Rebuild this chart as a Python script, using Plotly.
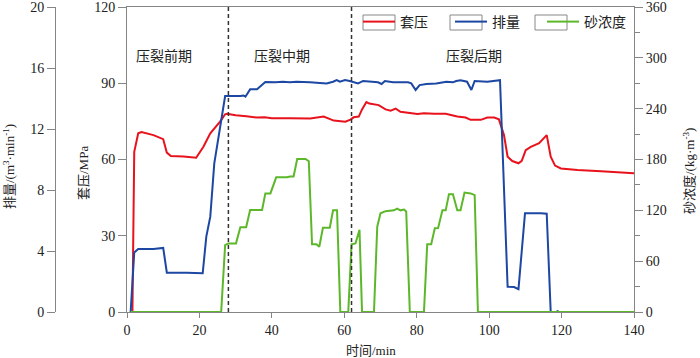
import plotly.graph_objects as go

# ---- data ----
t_press = [1.5, 2.0, 3.1, 4.0, 7.3, 10.0, 11.0, 12.1, 15.6, 19.1, 21.1, 23.0, 25.7, 27.1, 27.6, 30, 33, 36, 38, 40, 45,
           50.6, 54.3, 57.1, 60.3, 61.7, 62.6, 64.0, 64.9, 66.1, 66.9, 69.5, 71.4, 72.8, 74.2, 75.5, 80.2, 82.0, 84.8,
           88.0, 91.2, 93.5, 94.9, 97.7, 99.5, 101.4, 102.7, 104.1, 105.1, 106.4, 108.1, 109.0, 110.1, 111.5, 113.8,
           115.9, 117.0, 118.2, 119.8, 124.4, 130.9, 140]
casing_pressure = [0, 63, 70.3, 70.8, 69.6, 68.0, 62.7, 61.4, 61.2, 60.7, 65.0, 70.3, 74.9, 77.8, 78.0, 77.4, 77.0, 76.5,
                   76.6, 76.2, 76.2, 76.1, 76.9, 75.3, 74.9, 75.7, 76.6, 76.9, 79.7, 82.6, 82.0, 81.4, 79.7, 79.2, 80.0,
                   78.8, 77.9, 78.2, 78.0, 78.0, 76.9, 76.5, 75.6, 75.6, 76.5, 76.5, 75.8, 69.6, 61.1, 59.4, 58.5, 59.5,
                   63.7, 65.0, 66.4, 69.6, 61.1, 57.6, 56.5, 55.9, 55.4, 54.6]

t_rate = [1.0, 2.0, 3.1, 7.3, 10.0, 11.0, 16.5, 20.9, 21.9, 23.0, 24.1, 25.5, 27.1, 31.3, 32.2, 32.7, 34.0, 35.9, 37.3,
          38.2, 41.0, 43.0, 45.0, 46.8, 50.5, 55.1, 56.9, 57.9, 58.8, 60.2, 61.5, 63.8, 65.2, 69.3, 70.3, 71.2, 73.5,
          77.6, 78.5, 79.7, 80.8, 82.7, 85.4, 88.2, 90.0, 90.9, 92.1, 93.9, 95.1, 96.0, 99.5, 103.0, 105.1, 106.9,
          108.1, 109.9, 114.3, 115.9, 117.0, 118.5, 118.9, 119.3, 140]
pump_rate = [0, 3.9, 4.13, 4.13, 4.2, 2.58, 2.58, 2.54, 4.94, 6.25, 9.75, 11.93, 14.16, 14.16, 14.2, 14.12, 14.6, 14.6,
             14.9, 15.08, 15.06, 15.1, 15.06, 15.1, 15.06, 14.99, 15.1, 15.21, 15.1, 15.21, 15.15, 14.99, 15.15, 15.06,
             14.95, 15.15, 15.06, 15.06, 14.99, 14.56, 14.88, 14.95, 14.99, 15.1, 15.06, 15.15, 15.2, 15.1, 14.56,
             15.15, 15.1, 15.2, 1.66, 1.64, 1.5, 6.47, 6.47, 6.45, 0, 0, 0.06, 0, 0]

t_sand = [1.0, 26.0, 27.1, 28.0, 30.1, 31.3, 32.9, 34.0, 37.3, 38.2, 39.6, 41.2, 44.2, 45.0, 46.0, 47.0, 49.3, 50.2,
          51.1, 52.3, 53.1, 54.1, 56.0, 56.9, 58.0, 58.9, 61.1, 62.0, 63.1, 64.2, 64.9, 68.2, 69.1, 70.0, 71.4, 73.7,
          74.6, 75.5, 76.5, 77.1, 78.1, 82.0, 82.9, 84.0, 85.0, 85.9, 87.1, 88.0, 88.9, 90.0, 91.2, 92.1, 93.2, 94.9,
          96.0, 96.9, 140]
sand_conc = [0, 0, 79, 81, 81, 100, 100, 120.4, 120.4, 140, 140, 159, 159, 160, 160, 180.6, 180.6, 178, 80, 80, 77,
             99.5, 99.5, 120, 120, 0, 0, 80, 81, 97, 0, 0, 100.7, 116.5, 119, 120, 122, 120, 121, 118.6, 0, 0, 80, 80,
             98.8, 99, 120, 120, 139, 139, 120, 120, 141, 140, 138, 0, 0]

stage_bounds = [28, 62]
stage_labels = ["压裂前期", "压裂中期", "压裂后期"]
stage_label_x = [10.2, 42.9, 95.7]
x_ticks = [0, 20, 40, 60, 80, 100, 120, 140]

RED, BLUE, GREEN = "#e8121c", "#1c47a3", "#5cb82a"
AX = "#858585"
FONT = "Liberation Serif, Noto Sans CJK SC, serif"
TXT = "#222222"
W, H = 700, 358
T_M, B_M = 7, 46
PH = H - T_M - B_M


def py2paper(py):
    return (H - B_M - py) / PH


fig = go.Figure()
fig.add_trace(go.Scatter(x=t_press, y=casing_pressure, name="套压", mode="lines",
                         line=dict(color=RED, width=2), yaxis="y"))
fig.add_trace(go.Scatter(x=t_rate, y=pump_rate, name="排量", mode="lines",
                         line=dict(color=BLUE, width=2), yaxis="y2"))
fig.add_trace(go.Scatter(x=t_sand, y=sand_conc, name="砂浓度", mode="lines",
                         line=dict(color=GREEN, width=2), yaxis="y3"))

for xb in stage_bounds:
    fig.add_shape(type="line", xref="x", yref="paper", x0=xb, x1=xb, y0=0, y1=1,
                  line=dict(color="#333333", width=1.5, dash="4px,3px"))

for lab, lx in zip(stage_labels, stage_label_x):
    fig.add_annotation(x=lx, y=100.7, xref="x", yref="y", text=lab, showarrow=False,
                       font=dict(size=14, color=TXT, family=FONT))

# legend swatch frames
for x0 in [363, 450, 535]:
    fig.add_shape(type="rect", xref="paper", yref="paper", x0=x0 / W, x1=(x0 + 32) / W,
                  y0=py2paper(30), y1=py2paper(15), line=dict(color="#888888", width=1))

# axis titles
fig.add_annotation(x=9 / W, y=py2paper(167), xref="paper", yref="paper", textangle=-90, showarrow=False,
                   xanchor="center", yanchor="middle",
                   text="排量/(m<sup>3</sup>·min<sup>-1</sup>)", font=dict(size=13, color=TXT, family=FONT))
fig.add_annotation(x=83 / W, y=py2paper(173), xref="paper", yref="paper", textangle=-90, showarrow=False,
                   xanchor="center", yanchor="middle",
                   text="套压/MPa", font=dict(size=13, color=TXT, family=FONT))
fig.add_annotation(x=689 / W, y=py2paper(171), xref="paper", yref="paper", textangle=-90, showarrow=False,
                   xanchor="center", yanchor="middle",
                   text="砂浓度/(kg·m<sup>-3</sup>)", font=dict(size=13, color=TXT, family=FONT))
fig.add_annotation(x=371 / W, y=py2paper(350), xref="paper", yref="paper", showarrow=False,
                   xanchor="center", yanchor="middle",
                   text="时间/min", font=dict(size=13, color=TXT, family=FONT))

tickfont = dict(size=14, color=TXT, family=FONT)
fig.update_layout(
    template="none",
    width=W, height=H,
    margin=dict(l=0, r=0, t=T_M, b=B_M, pad=0, autoexpand=False),
    paper_bgcolor="white", plot_bgcolor="white",
    showlegend=True,
    legend=dict(orientation="h", x=358 / W, xanchor="left", y=py2paper(22), yanchor="middle",
                font=dict(size=14, color=TXT, family=FONT), bgcolor="rgba(0,0,0,0)",
                itemwidth=32, entrywidth=45, entrywidthmode="pixels", borderwidth=0),
    xaxis=dict(domain=[127 / W, 634 / W], range=[0, 140], tickvals=x_ticks, automargin=False,
               showline=True, linecolor=AX, linewidth=1, mirror=True, showgrid=False, zeroline=False,
               ticks="outside", ticklen=5, tickcolor=AX, tickfont=tickfont, ticklabeloverflow="allow"),
    yaxis=dict(range=[0, 120], dtick=30, showline=True, linecolor=AX, linewidth=1, showgrid=False,
               zeroline=False, ticks="outside", ticklen=8, tickcolor=AX, tickfont=tickfont, anchor="x",
               ticklabeloverflow="allow", automargin=False),
    yaxis2=dict(range=[0, 20], dtick=4, overlaying="y", anchor="free", position=55 / W, side="left",
                showline=True, linecolor=AX, linewidth=1, showgrid=False, zeroline=False, automargin=False,
                ticks="outside", ticklen=8, tickcolor=AX, tickfont=tickfont, ticklabeloverflow="allow"),
    yaxis3=dict(range=[0, 360], dtick=60, overlaying="y", anchor="x", side="right", automargin=False,
                showline=True, linecolor=AX, linewidth=1, showgrid=False, zeroline=False,
                ticks="outside", ticklen=8, tickcolor=AX, tickfont=tickfont, ticklabeloverflow="allow",
                minor=dict(dtick=30, ticks="outside", ticklen=5, tickcolor=AX)),
)

fig.write_html("out.html", config={"displayModeBar": False},
               post_script="document.body.style.margin='0';document.body.style.overflow='hidden';")
